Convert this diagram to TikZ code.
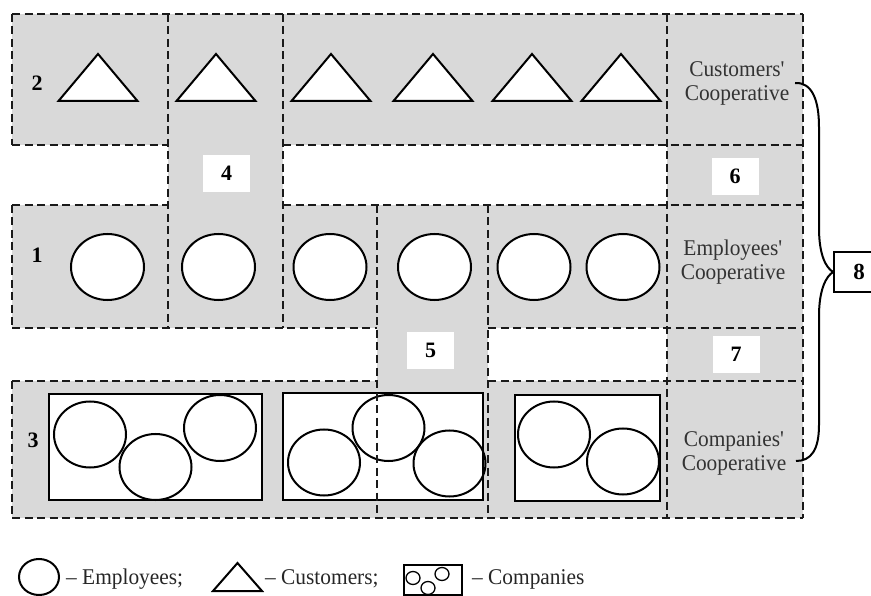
\documentclass[tikz,border=0pt]{standalone}
\usepackage{fontspec}
\setmainfont{Liberation Serif}
\newfontfamily\narrowserif[FakeStretch=0.95]{Liberation Serif}
\definecolor{zonegray}{HTML}{D9D9D9}
\definecolor{inkdark}{HTML}{1A1A1A}
\begin{document}
\begin{tikzpicture}[x=1pt,y=-1pt,
  dline/.style={draw=inkdark, line width=2.2pt, dash pattern=on 8pt off 4.5pt},
  shp/.style={draw=black, line width=2pt, fill=white},
  cbox/.style={draw=black, line width=2.4pt, fill=white},
  numbox/.style={fill=white, minimum width=47pt, minimum height=37pt, inner sep=0pt, font=\bfseries\fontsize{22}{22}\selectfont},
  rowlab/.style={inner sep=0pt, font=\bfseries\fontsize{22}{22}\selectfont},
  coop/.style={align=center, inner sep=0pt, font=\narrowserif\fontsize{22.5}{24}\selectfont, text=black!80},
  legtxt/.style={anchor=west, inner sep=0pt, font=\narrowserif\fontsize{22.5}{24}\selectfont, text=black!85},
]
\useasboundingbox (0,0) rectangle (871,596);

% gray zones
\fill[zonegray] (12,14) rectangle (803,145);
\fill[zonegray] (168,145) rectangle (283,205);
\fill[zonegray] (12,205) rectangle (803,328);
\fill[zonegray] (377,328) rectangle (488,381);
\fill[zonegray] (12,381) rectangle (803,518);
\fill[zonegray] (667,145) rectangle (803,205);
\fill[zonegray] (667,328) rectangle (803,381);

% triangles (customers)
\foreach \cx in {98,216,331,433,532,621}
  \draw[shp] (\cx-39.5,101) -- (\cx,54) -- (\cx+39.5,101) -- cycle;

% circles (employees)
\foreach \cx in {107.5,218.5,330,434.5,534,623}
  \draw[shp] (\cx,267) ellipse [x radius=36.5, y radius=33];

% companies
\draw[cbox] (49,394) rectangle (262,500);
\draw[cbox] (283,393) rectangle (483,500);
\draw[cbox] (515,395) rectangle (660,501);
\foreach \p in {(90,434.5),(155.5,467),(220,428),(324,462.5),(388.5,428),(449.5,463.5),(554,434.5),(623,461.5)}
  \draw[shp, fill=none] \p ellipse [x radius=36, y radius=33];

% dashed borders
\draw[dline] (12,14) -- (803,14);
\draw[dline] (12,145) -- (168,145);
\draw[dline] (283,145) -- (803,145);
\draw[dline] (12,205) -- (168,205);
\draw[dline] (283,205) -- (803,205);
\draw[dline] (12,328) -- (377,328);
\draw[dline] (488,328) -- (803,328);
\draw[dline] (12,381) -- (377,381);
\draw[dline] (488,381) -- (803,381);
\draw[dline] (12,518) -- (803,518);
\draw[dline] (12,14) -- (12,145);
\draw[dline] (12,205) -- (12,328);
\draw[dline] (12,381) -- (12,518);
\draw[dline] (168,14) -- (168,328);
\draw[dline] (283,14) -- (283,328);
\draw[dline] (377,205) -- (377,518);
\draw[dline] (488,205) -- (488,518);
\draw[dline] (667,14) -- (667,518);
\draw[dline] (803,14) -- (803,518);

% numbers
\node[numbox] (n4) at (226.5,173.5) {4};
\node[numbox] (n5) at (430.5,350.5) {5};
\node[numbox] (n6) at (735,176.5) {6};
\node[numbox] (n7) at (736,354.5) {7};
\node[rowlab] (r2) at (37,83) {2};
\node[rowlab] (r1) at (37,255) {1};
\node[rowlab] (r3) at (33,440) {3};

% cooperative labels
\node[coop] (cust) at (737,83) {Customers\textquotesingle\\Cooperative};
\node[coop] (empl) at (733,262) {Employees\textquotesingle\\Cooperative};
\node[coop] (comp) at (734,453) {Companies\textquotesingle\\Cooperative};

% box 8 and brace
\node[draw=black, line width=1.5pt, fill=white, minimum width=50pt, minimum height=40pt, inner sep=0pt,
      font=\bfseries\fontsize{23}{23}\selectfont] (n8) at (859,272) {8};
\coordinate (bt) at (795,83);
\coordinate (bb) at (796,461);
\draw[line width=2pt] (bt) .. controls (812,82) and (819,100) .. (819,127) -- (819,228)
   .. controls (819,255) and (826,268) .. (n8.west);
\draw[line width=2pt] (n8.west) .. controls (826,276) and (819,290) .. (819,316) -- (819,425)
   .. controls (819,450) and (811,461) .. (bb);

% legend
\draw[shp] (39,577) ellipse [x radius=20, y radius=18];
\node[legtxt] (le) at (66,579) {– Employees;};
\draw[shp] (213,591) -- (237.5,563) -- (262,591) -- cycle;
\node[legtxt] (lc) at (265,579) {– Customers;};
\draw[draw=black, line width=1.9pt] (404,565) rectangle (462,595);
\draw[draw=black, line width=1.3pt] (413,578) ellipse [x radius=7, y radius=6.5];
\draw[draw=black, line width=1.3pt] (428,588) ellipse [x radius=7, y radius=6.5];
\draw[draw=black, line width=1.3pt] (442,574) ellipse [x radius=7, y radius=6.5];
\node[legtxt] (lo) at (472,579) {– Companies};
\end{tikzpicture}
\end{document}
